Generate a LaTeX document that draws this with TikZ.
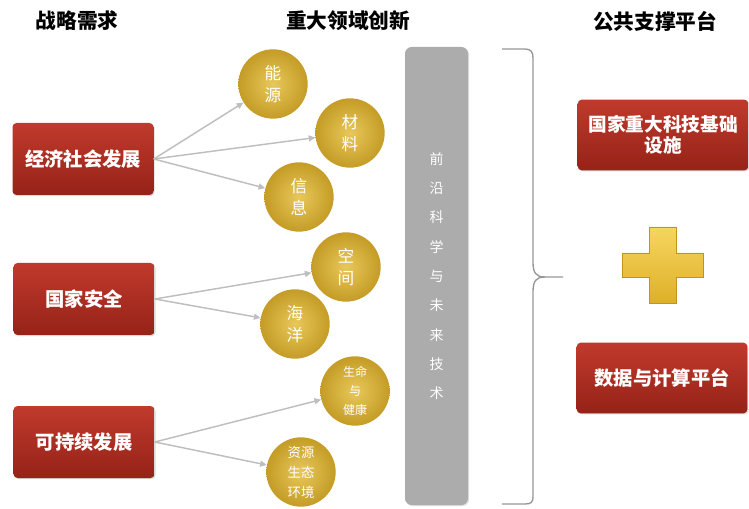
\documentclass[tikz,border=0pt]{standalone}
\usepackage{fontspec}
\setmainfont{Noto Sans CJK SC}
\usetikzlibrary{arrows.meta,shadows}

\definecolor{redtop}{RGB}{192,58,44}
\definecolor{redbot}{RGB}{150,34,24}
\definecolor{goldin}{RGB}{232,200,90}
\definecolor{goldout}{RGB}{196,156,38}
\definecolor{linkgray}{RGB}{190,190,190}
\definecolor{bargray}{RGB}{172,172,172}
\definecolor{bracegray}{RGB}{150,150,150}

\begin{document}
\begin{tikzpicture}[x=0.75pt,y=0.75pt,yscale=-1,xscale=1,
  head/.style={font=\fontsize{15.5}{18}\selectfont\bfseries},
  redbox/.style={rectangle, rounded corners=3pt, top color=redtop, bottom color=redbot,
    minimum width=105.75pt, minimum height=54pt, inner sep=2pt, text=white, align=center,
    font=\fontsize{14.5}{17}\selectfont\bfseries,
    drop shadow={opacity=0.3, shadow xshift=0.8pt, shadow yshift=-0.8pt}},
  goldball/.style={circle, inner color=goldin, outer color=goldout, minimum size=52pt,
    inner sep=0pt, text=white, align=center, font=\fontsize{12.5}{17}\selectfont},
  link/.style={draw=linkgray, line width=1.1pt, -{Triangle[length=5pt,width=4.5pt]}}]
\useasboundingbox (0,0) rectangle (749,509);

% Text Node
\node [head] (hneed) at (77,21) {战略需求};
% Text Node
\node [head] (hfield) at (348,21) {重大领域创新};
% Text Node
\node [head] (hbase) at (655,21) {公共支撑平台};

%Shape: Rectangle
\node [redbox] (econ) at (83,159) {经济社会发展};
%Shape: Rectangle
\node [redbox] (safe) at (84,299) {国家安全};
%Shape: Rectangle
\node [redbox] (green) at (84,442) {可持续发展};

%Shape: Circle
\node [goldball] (energy) at (273,84) {能\\源};
%Shape: Circle
\node [goldball] (material) at (350,133) {材\\料};
%Shape: Circle
\node [goldball] (info) at (299,197) {信\\息};
%Shape: Circle
\node [goldball] (space) at (346,267) {空\\间};
%Shape: Circle
\node [goldball] (ocean) at (295,324) {海\\洋};
%Shape: Circle
\node [goldball, font=\fontsize{9}{14}\selectfont] (life) at (355,391) {生命\\与\\健康};
%Shape: Circle
\node [goldball, font=\fontsize{10}{15}\selectfont] (eco) at (301,472) {资源\\生态\\环境};

%Straight Lines
\draw [link] (econ.east) -- (energy);
\draw [link] (econ.east) -- (material);
\draw [link] (econ.east) -- (info);
%Straight Lines
\draw [link] (safe.east) -- (space);
\draw [link] (safe.east) -- (ocean);
%Straight Lines
\draw [link] (green.east) -- (life);
\draw [link] (green.east) -- (eco);

%Shape: Rectangle
\node [rectangle, rounded corners=5pt, fill=bargray, minimum width=47.25pt, minimum height=343.5pt,
  text=white, align=center, font=\fontsize{10.5}{22}\selectfont,
  drop shadow={opacity=0.25, shadow xshift=0.8pt, shadow yshift=-0.8pt}] (frontier) at (436.5,276)
  {前\\沿\\科\\学\\与\\未\\来\\技\\术};

%Shape: Brace
\draw [bracegray, line width=1pt] (502,49) -- (525,49) .. controls (531,49) and (533,52) .. (533,58) -- (533,262)
  .. controls (533,273) and (536,277) .. (545,277) -- (563,277);
\draw [bracegray, line width=1pt] (545,277) .. controls (536,277) and (533,281) .. (533,292) -- (533,497)
  .. controls (533,502) and (531,504) .. (525,504) -- (502,504);

%Shape: Rectangle
\node [redbox, minimum width=128pt, minimum height=53pt, font=\fontsize{14}{16}\selectfont\bfseries] (facility) at (663,135) {国家重大科技基础\\设施};
%Shape: Rectangle
\node [redbox, minimum width=128pt, minimum height=53pt] (compute) at (662,378) {数据与计算平台};

%Shape: Cross
\shade [top color={rgb,255:red,246;green,214;blue,96}, bottom color={rgb,255:red,222;green,176;blue,40},
  draw={rgb,255:red,190;green,150;blue,30}, line width=0.5pt]
  (649,227) -- (676,227) -- (676,253) -- (703,253) -- (703,277) -- (676,277) -- (676,303)
  -- (649,303) -- (649,277) -- (622,277) -- (622,253) -- (649,253) -- cycle;

\end{tikzpicture}
\end{document}
